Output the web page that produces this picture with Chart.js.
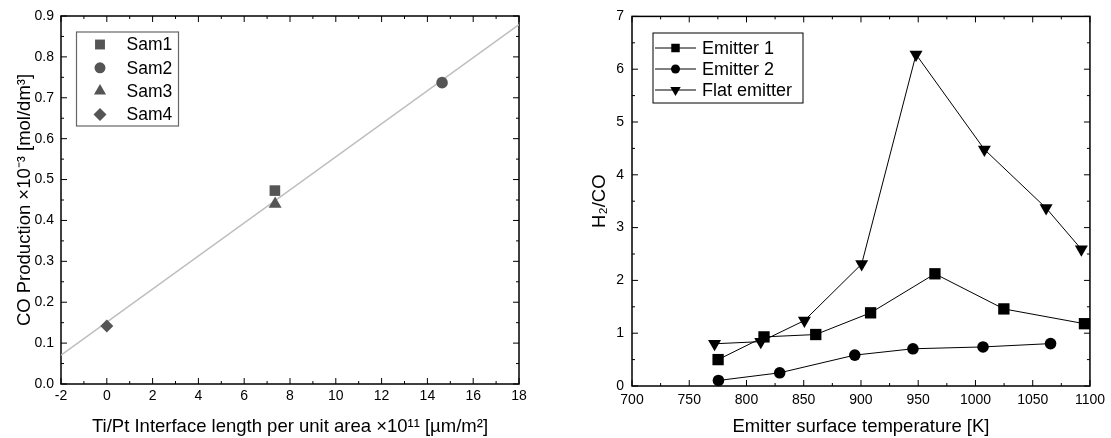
<!DOCTYPE html>
<html><head><meta charset="utf-8">
<script src="https://cdn.jsdelivr.net/npm/chart.js@4.4.0/dist/chart.umd.min.js"></script>
<style>
html,body{margin:0;padding:0;background:#fff;width:1111px;height:438px;overflow:hidden}
#l{position:absolute;left:0;top:0;width:555px;height:438px}
#r{position:absolute;left:555px;top:0;width:556px;height:438px}
</style></head><body>
<div id="l"><canvas id="c1"></canvas></div>
<div id="r"><canvas id="c2"></canvas></div>
<script>
// ---- Left chart data ----
const samLabels = ['Sam1', 'Sam2', 'Sam3', 'Sam4'];
const samX = [7.34, 14.64, 7.35, 0.0];
const samY = [0.473, 0.737, 0.440, 0.142];
const fitX = [-2, 18];
const fitY = [0.0707, 0.879];
const leftXRange = [-2, 18, 2];
const leftYRange = [0, 0.9, 0.1];
const leftXTitle = 'Ti/Pt Interface length per unit area \u00d710\u00b9\u00b9 [\u00b5m/m\u00b2]';
const leftYTitle = 'CO Production \u00d710\u207b\u00b3 [mol/dm\u00b3]';

// ---- Right chart data ----
const seriesLabels = ['Emitter 1', 'Emitter 2', 'Flat emitter'];
const emitter1T = [775.2, 815.3, 860.5, 908.4, 964.6, 1024.8, 1095.2];
const emitter1V = [0.50, 0.93, 0.975, 1.386, 2.125, 1.46, 1.18];
const emitter2T = [775.5, 829.0, 894.6, 945.4, 1006.6, 1065.6];
const emitter2V = [0.105, 0.25, 0.585, 0.705, 0.74, 0.803];
const flatT = [772.1, 812.5, 850.6, 900.6, 948.1, 1007.8, 1061.7, 1092.5];
const flatV = [0.80, 0.84, 1.24, 2.31, 6.28, 4.48, 3.37, 2.59];
const rightXRange = [700, 1100, 50];
const rightYRange = [0, 7, 1];
const rightXTitle = 'Emitter surface temperature [K]';
const rightYTitle = 'H\u2082/CO';

const FONT = "'Liberation Sans', Arial, Helvetica, sans-serif";
const pts = (xs, ys) => xs.map((x, i) => ({x, y: ys[i]}));

function marker(ctx, style, x, y, r, rot) {
  ctx.beginPath();
  if (style === 'rect') {
    const s = r * Math.SQRT1_2; ctx.rect(x - s, y - s, 2 * s, 2 * s);
  } else if (style === 'circle') {
    ctx.arc(x, y, r, 0, Math.PI * 2);
  } else if (style === 'rectRot') {
    ctx.moveTo(x, y - r); ctx.lineTo(x + r, y); ctx.lineTo(x, y + r); ctx.lineTo(x - r, y); ctx.closePath();
  } else if (style === 'triangle') {
    let a = (rot || 0) * Math.PI / 180;
    for (let k = 0; k < 3; k++) {
      const px = x + Math.sin(a) * r, py = y - Math.cos(a) * r;
      if (k === 0) ctx.moveTo(px, py); else ctx.lineTo(px, py);
      a += 2 * Math.PI / 3;
    }
    ctx.closePath();
  }
  ctx.fill();
}

const frameTicks = {
  id: 'frameTicks',
  beforeDatasetsDraw(chart) {
    const {ctx, chartArea: a} = chart;
    const xs = chart.scales.x, ys = chart.scales.y;
    ctx.save();
    ctx.strokeStyle = '#000';
    ctx.lineWidth = 1;
    const seg = (x0, y0, x1, y1) => { ctx.beginPath(); ctx.moveTo(x0, y0); ctx.lineTo(x1, y1); ctx.stroke(); };
    const xv = xs.ticks.map(t => t.value), yv = ys.ticks.map(t => t.value);
    const draw = (vals, isX) => {
      const sc = isX ? xs : ys;
      const all = [];
      vals.forEach((v, i) => {
        all.push([v, 6]);
        if (i < vals.length - 1) all.push([(v + vals[i + 1]) / 2, 3]);
      });
      all.forEach(([v, len]) => {
        const p = sc.getPixelForValue(v);
        if (isX) { seg(p, a.bottom, p, a.bottom - len); seg(p, a.top, p, a.top + len); }
        else { seg(a.left, p, a.left + len, p); seg(a.right, p, a.right - len, p); }
      });
    };
    draw(xv, true); draw(yv, false);
    ctx.lineWidth = 1.5;
    ctx.strokeRect(a.left, a.top, a.width, a.height);
    ctx.restore();
  }
};

const boxLegend = {
  id: 'boxLegend',
  afterDatasetsDraw(chart, args, o) {
    const {ctx} = chart;
    ctx.save();
    ctx.fillStyle = '#fff';
    ctx.fillRect(o.x, o.y, o.w, o.h);
    ctx.strokeStyle = o.border; ctx.lineWidth = o.borderWidth;
    ctx.strokeRect(o.x, o.y, o.w, o.h);
    ctx.font = o.fontSize + 'px ' + FONT;
    ctx.textBaseline = 'middle';
    let row = 0;
    chart.data.datasets.forEach(ds => {
      if (!ds.label) return;
      const cy = o.y + o.firstRow + row * o.rowH;
      ctx.fillStyle = ds.pointBackgroundColor;
      if (o.lines) {
        ctx.strokeStyle = ds.borderColor; ctx.lineWidth = 1;
        ctx.beginPath(); ctx.moveTo(o.x + o.lineX0, cy); ctx.lineTo(o.x + o.lineX1, cy); ctx.stroke();
      }
      marker(ctx, ds.pointStyle, o.x + o.markX, cy, o.markR[ds.pointStyle], ds.pointRotation);
      ctx.fillStyle = '#000';
      ctx.fillText(ds.label, o.x + o.textX, cy + 1);
      row++;
    });
    ctx.restore();
  }
};

function axis(range, titleText, titleFont, pad, tickPad, fmt, fitSize, isX) {
  return {
    type: 'linear', min: range[0], max: range[1],
    grid: {display: false, drawTicks: false},
    border: {display: false},
    ticks: {stepSize: range[2], padding: tickPad, color: '#000', font: {family: FONT, size: 14},
      callback: fmt, maxRotation: 0, autoSkip: false},
    title: {display: true, text: titleText, color: '#000', font: {family: FONT, size: titleFont}, padding: pad},
    afterFit(s) { if (isX) s.height = fitSize; else s.width = fitSize; }
  };
}

// ---- Left chart ----
const leftStyles = [
  {pointStyle: 'rect', r: 7.5, rot: 0},
  {pointStyle: 'circle', r: 5.8, rot: 0},
  {pointStyle: 'triangle', r: 7.5, rot: 0},
  {pointStyle: 'rectRot', r: 6.5, rot: 0}
];
const leftDatasets = samLabels.map((lab, i) => ({
  label: lab,
  data: [{x: samX[i], y: samY[i]}],
  pointStyle: leftStyles[i].pointStyle,
  pointRadius: leftStyles[i].r,
  pointRotation: leftStyles[i].rot,
  pointBackgroundColor: '#555',
  pointBorderColor: '#555',
  pointBorderWidth: 0,
  borderColor: '#555',
  showLine: false,
  clip: false,
  order: 1
}));
leftDatasets.push({
  label: '',
  data: pts(fitX, fitY),
  showLine: true, pointRadius: 0, borderColor: '#bdbdbd', borderWidth: 1.5,
  order: 10
});

new Chart(document.getElementById('c1'), {
  type: 'scatter',
  data: {datasets: leftDatasets},
  options: {
    responsive: true, maintainAspectRatio: false, animation: false,
    layout: {padding: {top: 16, right: 36, left: 0, bottom: 0}},
    plugins: {
      legend: {display: false}, tooltip: {enabled: false},
      boxLegend: {x: 76.5, y: 32, w: 102, h: 94, border: '#666', borderWidth: 1.2,
        fontSize: 17.5, firstRow: 12.5, rowH: 23.3, markX: 23.5,
        markR: {rect: 7, circle: 5.5, triangle: 7, rectRot: 6.5}, textX: 50, lines: false}
    },
    scales: {
      x: axis(leftXRange, leftXTitle, 18.5, {top: 0, bottom: 0}, 4, v => String(v), 54, true),
      y: axis(leftYRange, leftYTitle, 18.5, {top: 14, bottom: 0}, 7, v => v.toFixed(1), 61, false)
    }
  },
  plugins: [frameTicks, boxLegend]
});

// ---- Right chart ----
const rightStyles = [
  {pointStyle: 'rect', r: 8, rot: 0},
  {pointStyle: 'circle', r: 5.8, rot: 0},
  {pointStyle: 'triangle', r: 7.5, rot: 180}
];
const rightSeries = [[emitter1T, emitter1V], [emitter2T, emitter2V], [flatT, flatV]];
const rightDatasets = seriesLabels.map((lab, i) => ({
  label: lab,
  data: pts(rightSeries[i][0], rightSeries[i][1]),
  showLine: true,
  borderColor: '#000', borderWidth: 1,
  pointStyle: rightStyles[i].pointStyle,
  pointRadius: rightStyles[i].r,
  pointRotation: rightStyles[i].rot,
  pointBackgroundColor: '#000', pointBorderColor: '#000', pointBorderWidth: 0,
  clip: false
}));

new Chart(document.getElementById('c2'), {
  type: 'scatter',
  data: {datasets: rightDatasets},
  options: {
    responsive: true, maintainAspectRatio: false, animation: false,
    layout: {padding: {top: 16, right: 18, left: 0, bottom: 0}},
    plugins: {
      legend: {display: false}, tooltip: {enabled: false},
      boxLegend: {x: 98, y: 33, w: 150, h: 70, border: '#000', borderWidth: 1,
        fontSize: 18, firstRow: 15, rowH: 21, markX: 22.5,
        markR: {rect: 6, circle: 4.5, triangle: 6}, textX: 49, lineX0: 2, lineX1: 43, lines: true}
    },
    scales: {
      x: axis(rightXRange, rightXTitle, 18.5, {top: 0, bottom: 0}, 6, v => String(v), 52, true),
      y: axis(rightYRange, rightYTitle, 18.5, {top: 34, bottom: 0}, 8, v => String(v), 77, false)
    }
  },
  plugins: [frameTicks, boxLegend]
});
</script>
</body></html>
